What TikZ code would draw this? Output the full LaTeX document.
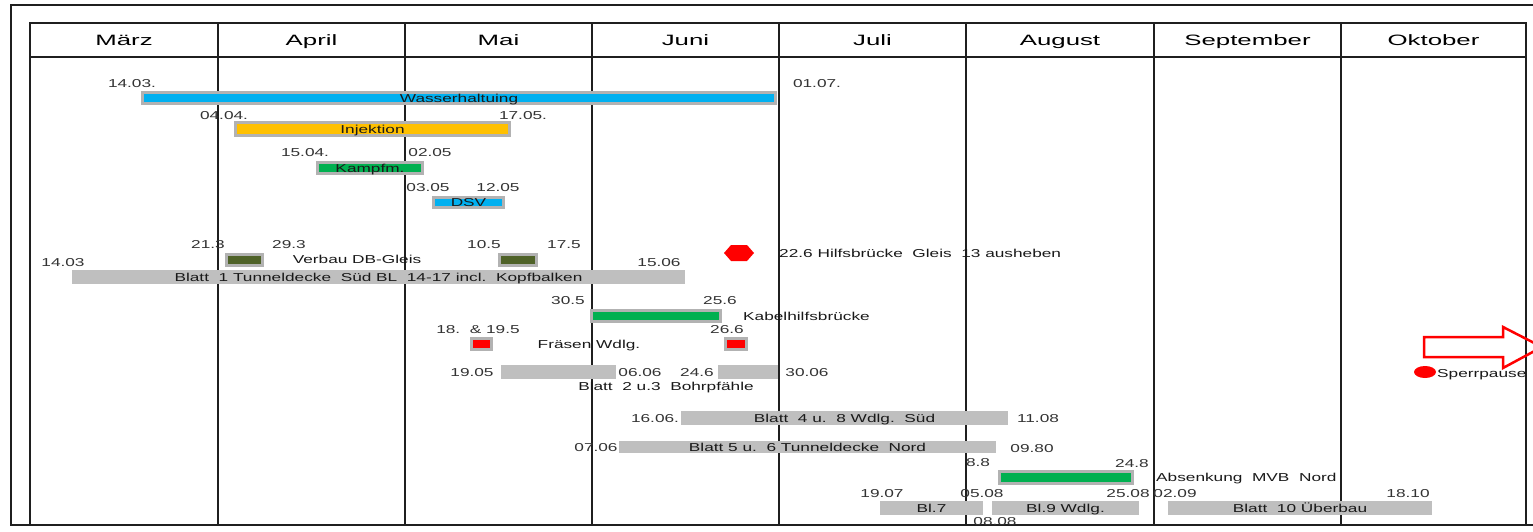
\documentclass[tikz,border=0pt]{standalone}
\usepackage{fontspec}
\setmainfont{Liberation Sans}
\newfontfamily\widesans[FakeStretch=1.5]{Liberation Sans}
\newfontfamily\monthsans[FakeStretch=1.72]{Liberation Sans}

\definecolor{barline}{HTML}{B2B2B2}
\definecolor{greybar}{HTML}{BFBFBF}
\definecolor{skyblue}{HTML}{00B0F0}
\definecolor{amber}{HTML}{FFC000}
\definecolor{leaf}{HTML}{00B050}
\definecolor{olive}{HTML}{4F6228}
\definecolor{datecol}{HTML}{333333}

\tikzset{
  gridline/.style={line width=2pt, draw=black!88},
  capbox/.style={text height=8.2pt, text depth=0pt},
  date/.style={capbox, font=\widesans\fontsize{11.5}{13}\selectfont, text=datecol, inner sep=0pt},
  lbl/.style={capbox, font=\widesans\fontsize{11.5}{13}\selectfont, text=black!90, inner sep=0pt},
  month/.style={font=\monthsans\fontsize{15}{17}\selectfont, inner sep=0pt},
  task/.style={capbox, fill=#1, draw=barline, line width=3pt, inner sep=0pt, outer sep=0pt,
    font=\widesans\fontsize{11.5}{13}\selectfont, text=black!90},
  greytask/.style={task=greybar, draw=greybar},
}

% task bar from its outer corners: name, x1, y1, x2, y2, style, text
\newcommand\taskbar[7]{%
  \node[#6, minimum width={#4-#2-3}, minimum height={#5-#3-3}]
    (#1) at ({(#2+#4)/2},{(#3+#5)/2}) {#7};}

\begin{document}
\begin{tikzpicture}[x=1pt,y=-1pt]
\useasboundingbox (0,0) rectangle (1533,532);
\clip (0,0) rectangle (1533,532);

% outer frame
\draw[gridline] (1545,5) -- (11,5) -- (11,525) -- (1545,525);

% month grid
\draw[gridline] (30,23) rectangle (1526,525);
\draw[gridline] (30,57) -- (1526,57);
\foreach \xx in {218,405,592,779,966,1154,1341}
  \draw[gridline] (\xx,23) -- (\xx,525);

\foreach \name/\xa/\xb [count=\i] in {März/30/218, April/218/405, Mai/405/592,
    Juni/592/779, Juli/779/966, August/966/1154, September/1154/1341, Oktober/1341/1526}
  \node[month, anchor=base] (m\i) at ({(\xa+\xb)/2},46) {\name};

% Wasserhaltung
\node[date] (d1) at (132,83) {14.03.};
\node[date] (d2) at (817,83) {01.07.};
\taskbar{wh}{141}{91}{777}{105}{task=skyblue}{Wasserhaltuing}

% Injektion
\node[date] (d3) at (224,115) {04.04.};
\node[date] (d4) at (523,115) {17.05.};
\taskbar{inj}{234}{121}{511}{137}{task=amber}{Injektion}

% Kampfmittel
\node[date] (d5) at (305,152) {15.04.};
\node[date] (d6) at (430,152) {02.05};
\taskbar{kampf}{316}{161}{424}{175}{task=leaf}{Kampfm.}

% DSV
\node[date] (d7) at (428,187) {03.05};
\node[date] (d8) at (498,187) {12.05};
\taskbar{dsv}{432}{196}{505}{209}{task=skyblue}{DSV}

% Verbau DB-Gleis
\node[date] (d9) at (208,244) {21.3};
\node[date] (d10) at (289,244) {29.3};
\node[date] (d11) at (484,244) {10.5};
\node[date] (d12) at (564,244) {17.5};
\taskbar{vb1}{225}{253}{264}{267}{task=olive}{}
\taskbar{vb2}{498}{253}{538}{267}{task=olive}{}
\node[lbl] (vbl) at (357,259) {Verbau DB-Gleis};

% Blatt 1
\node[date] (d13) at (63,262) {14.03};
\node[date] (d14) at (659,262) {15.06};
\taskbar{b1}{72}{270}{685}{284}{greytask}{Blatt\ \ 1 Tunneldecke\ \ Süd BL\ \ 14-17 incl.\ \ Kopfbalken}

% Hilfsbruecke
\fill[red] (724,253) -- (731,245) -- (747,245) -- (754,253) -- (747,261) -- (731,261) -- cycle;
\node[lbl, anchor=west] (hb) at (779,253) {22.6 Hilfsbrücke\ \ Gleis\ \ 13 ausheben};

% Kabelhilfsbruecke
\node[date] (d15) at (568,300) {30.5};
\node[date] (d16) at (720,300) {25.6};
\taskbar{kab}{590}{309}{722}{323}{task=leaf}{}
\node[lbl, anchor=west] (kabl) at (743,316) {Kabelhilfsbrücke};

% Fraesen
\node[date] (d17) at (478,329) {18.\ \ \& 19.5};
\node[date] (d18) at (727,329) {26.6};
\taskbar{fr1}{470}{337}{493}{351}{task=red}{}
\taskbar{fr2}{724}{337}{748}{351}{task=red}{}
\node[lbl] (frl) at (589,344) {Fräsen Wdlg.};

% Blatt 2 u. 3
\node[date] (d19) at (472,372) {19.05};
\node[date] (d20) at (640,372) {06.06};
\node[date] (d21) at (697,372) {24.6};
\node[date] (d22) at (807,372) {30.06};
\taskbar{b2a}{501}{365}{616}{379}{greytask}{}
\taskbar{b2b}{718}{365}{778}{379}{greytask}{}
\node[lbl] (b2l) at (666,386) {Blatt\ \ 2 u.3\ \ Bohrpfähle};

% Sperrpause
\draw[red, line width=2.5pt, line join=miter]
  (1424,337) -- (1503,337) -- (1503,327) -- (1542,347) -- (1503,368) -- (1503,357) -- (1424,357) -- cycle;
\fill[red] (1425,372) ellipse [x radius=11, y radius=6];
\node[lbl, anchor=west] (sp) at (1437,373) {Sperrpause};

% Blatt 4 u. 8
\node[date] (d23) at (655,418) {16.06.};
\node[date] (d24) at (1038,418) {11.08};
\taskbar{b4}{681}{411}{1008}{425}{greytask}{Blatt\ \ 4 u.\ \ 8 Wdlg.\ \ Süd}

% Blatt 5 u. 6
\node[date] (d25) at (596,447) {07.06};
\node[date] (d26) at (1032,448) {09.80};
\taskbar{b5}{619}{441}{996}{453}{greytask}{Blatt 5 u.\ \ 6 Tunneldecke\ \ Nord}

% Absenkung
\node[date] (d27) at (978,462) {8.8};
\node[date] (d28) at (1132,463) {24.8};
\taskbar{abs}{998}{470}{1134}{485}{task=leaf}{}
\node[lbl, anchor=west] (absl) at (1156,477) {Absenkung\ \ MVB\ \ Nord};

% Blatt 7, 9, 10
\node[date] (d29) at (882,493) {19.07};
\node[date] (d30) at (982,493) {05.08};
\node[date] (d31) at (1128,493) {25.08};
\node[date] (d32) at (1175,493) {02.09};
\node[date] (d33) at (1408,493) {18.10};
\node[date] (d34) at (995,521) {08.08};
\taskbar{b7}{880}{501}{983}{515}{greytask}{Bl.7}
\taskbar{b9}{992}{501}{1139}{515}{greytask}{Bl.9 Wdlg.}
\taskbar{b10}{1168}{501}{1432}{515}{greytask}{Blatt\ \ 10 Überbau}

\end{tikzpicture}
\end{document}
